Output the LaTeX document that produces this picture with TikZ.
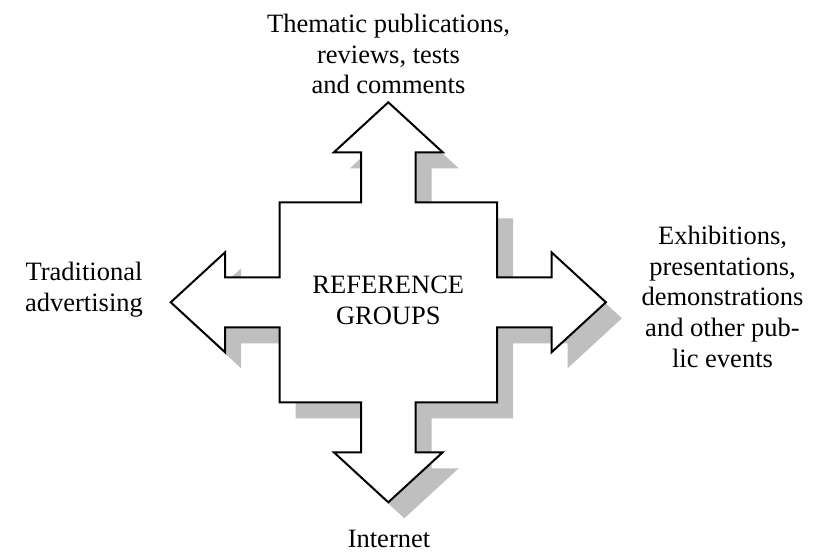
\documentclass[tikz,border=0pt]{standalone}
\usepackage{fontspec}
\setmainfont{Liberation Serif}

\newcommand\crossarrow{(0,200) -- (50,150) -- (25,150) -- (25,100) -- (100,100) -- (100,25)
  -- (150,25) -- (150,50) -- (200,0) -- (150,-50) -- (150,-25) -- (100,-25) -- (100,-100)
  -- (25,-100) -- (25,-150) -- (50,-150) -- (0,-200) -- (-50,-150) -- (-25,-150) -- (-25,-100)
  -- (-100,-100) -- (-100,-25) -- (-150,-25) -- (-150,-50) -- (-200,0) -- (-150,50)
  -- (-150,25) -- (-100,25) -- (-100,100) -- (-25,100) -- (-25,150) -- (-50,150) -- cycle}

\begin{document}
\begin{tikzpicture}[x=1pt,y=1pt,
  arrowshape/.style={draw=black,line width=1pt,fill=white,line join=miter},
  arrowshadow/.style={fill=black!25},
  lbl/.style={align=center,inner sep=0pt,anchor=base,font=\fontsize{13.25}{15.4}\selectfont}]
\useasboundingbox (0,0) rectangle (409,275.5);
% shadow first, then the arrow on top
\begin{scope}[shift={(202.15,116.35)},xscale=0.544,yscale=0.5]
\fill[arrowshadow] \crossarrow;
\end{scope}
\begin{scope}[shift={(194.15,124.35)},xscale=0.544,yscale=0.5]
\draw[arrowshape] \crossarrow;
\end{scope}
% anchor=base is the baseline of the last line
\node[lbl,font=\fontsize{13.25}{15.9}\selectfont] (groups) at (194.15,113) {REFERENCE\\GROUPS};
\node[lbl] (press) at (194.25,228.5) {Thematic publications,\\reviews, tests\\and comments};
\node[lbl] (ads) at (42,119.65) {Traditional\\advertising};
\node[lbl] (events) at (361.25,91.75) {Exhibitions,\\presentations,\\demonstrations\\and other pub-\\lic events};
\node[lbl] (web) at (194.5,1.85) {Internet};
\end{tikzpicture}
\end{document}
